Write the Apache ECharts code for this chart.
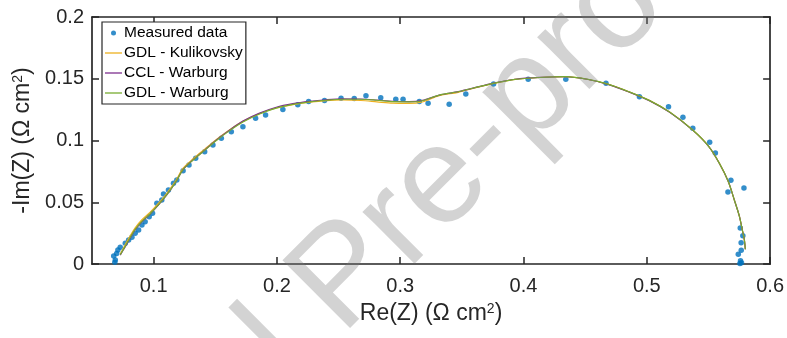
<!DOCTYPE html>
<html>
<head>
<meta charset="utf-8">
<script src="https://cdn.jsdelivr.net/npm/echarts@6/dist/echarts.min.js"></script>
<style>
  html, body { margin: 0; padding: 0; background: #fff; }
  #chart { width: 787px; height: 338px; }
</style>
</head>
<body>
<div id="chart"></div>
<script>
// Nyquist plot: measured impedance vs three model fits
const measuredRe = [
  0.0676, 0.0689, 0.0685, 0.0700, 0.0710, 0.0729, 0.0770, 0.0797, 0.0824, 0.0850,
  0.0878, 0.0905, 0.0931, 0.0964, 0.0991, 0.1026, 0.1066, 0.1080, 0.1120, 0.1161,
  0.1188, 0.1239, 0.1287, 0.1341, 0.1414, 0.1481, 0.1549, 0.1630, 0.1724, 0.1827,
  0.1908, 0.2048, 0.2169, 0.2257, 0.2386, 0.2520, 0.2627, 0.2722, 0.2842, 0.2964,
  0.3023, 0.3155, 0.3226, 0.3397, 0.3532, 0.3757, 0.4038, 0.4343, 0.4669, 0.4940,
  0.5176, 0.5293, 0.5373, 0.5510, 0.5556, 0.5682, 0.5658, 0.5788, 0.5758, 0.5779,
  0.5765, 0.5766, 0.5742, 0.5760, 0.5768, 0.5755
];
const measuredIm = [
  0.0065, 0.0032, 0.0015, 0.0085, 0.0113, 0.0135, 0.0168, 0.0194, 0.0216, 0.0248,
  0.0275, 0.0316, 0.0343, 0.0383, 0.0410, 0.0491, 0.0518, 0.0567, 0.0599, 0.0653,
  0.0680, 0.0756, 0.0802, 0.0856, 0.0909, 0.0964, 0.1018, 0.1071, 0.1112, 0.1180,
  0.1206, 0.1252, 0.1290, 0.1315, 0.1324, 0.1342, 0.1340, 0.1363, 0.1346, 0.1335,
  0.1335, 0.1316, 0.1301, 0.1293, 0.1377, 0.1457, 0.1495, 0.1495, 0.1463, 0.1355,
  0.1274, 0.1188, 0.1100, 0.0985, 0.0899, 0.0678, 0.0583, 0.0615, 0.0291, 0.0229,
  0.0172, 0.0111, 0.0078, 0.0027, 0.0010, 0.0005
];

// fitted curves share the same Re(Z) samples
const fitRe = [
  0.0729, 0.0770, 0.0810, 0.0850, 0.0905, 0.0970, 0.1040, 0.1110, 0.1180, 0.1239,
  0.1320, 0.1414, 0.1509, 0.1617, 0.1724, 0.1859, 0.1994, 0.2129, 0.2264, 0.2400,
  0.2530, 0.2680, 0.2810, 0.2940, 0.3070, 0.3180, 0.3316, 0.3470, 0.3640, 0.3766,
  0.3931, 0.4129, 0.4340, 0.4525, 0.4690, 0.4855, 0.5020, 0.5185, 0.5372, 0.5500,
  0.5589, 0.5660, 0.5710, 0.5750, 0.5775, 0.5792, 0.5799
];
const gdlKulikovskyIm = [
  0.0080, 0.0158, 0.0228, 0.0293, 0.0358, 0.0418, 0.0492, 0.0577, 0.0676, 0.0776,
  0.0852, 0.0930, 0.1008, 0.1087, 0.1155, 0.1218, 0.1263, 0.1291, 0.1310, 0.1323,
  0.1328, 0.1324, 0.1313, 0.1302, 0.1300, 0.1312, 0.1362, 0.1390, 0.1434, 0.1464,
  0.1495, 0.1510, 0.1517, 0.1494, 0.1454, 0.1394, 0.1325, 0.1230, 0.1085, 0.0955,
  0.0815, 0.0670, 0.0518, 0.0390, 0.0275, 0.0190, 0.0119
];
const cclWarburgIm = [
  0.0072, 0.0140, 0.0210, 0.0276, 0.0342, 0.0402, 0.0478, 0.0563, 0.0664, 0.0764,
  0.0843, 0.0922, 0.1004, 0.1086, 0.1157, 0.1222, 0.1269, 0.1298, 0.1317, 0.1330,
  0.1337, 0.1336, 0.1328, 0.1318, 0.1315, 0.1325, 0.1368, 0.1396, 0.1436, 0.1466,
  0.1496, 0.1511, 0.1516, 0.1494, 0.1453, 0.1393, 0.1323, 0.1228, 0.1084, 0.0954,
  0.0814, 0.0670, 0.0518, 0.0390, 0.0275, 0.0190, 0.0119
];
const gdlWarburgIm = [
  0.0075, 0.0145, 0.0215, 0.0280, 0.0345, 0.0405, 0.0480, 0.0565, 0.0665, 0.0765,
  0.0842, 0.0920, 0.1000, 0.1080, 0.1150, 0.1215, 0.1262, 0.1292, 0.1312, 0.1326,
  0.1334, 0.1334, 0.1326, 0.1315, 0.1312, 0.1322, 0.1368, 0.1395, 0.1436, 0.1465,
  0.1495, 0.1510, 0.1517, 0.1495, 0.1455, 0.1395, 0.1325, 0.1230, 0.1085, 0.0955,
  0.0815, 0.0670, 0.0518, 0.0390, 0.0275, 0.0190, 0.0119
];

const xTicks = [0.1, 0.2, 0.3, 0.4, 0.5, 0.6];
const seriesNames = ['Measured data', 'GDL - Kulikovsky', 'CCL - Warburg', 'GDL - Warburg'];

const FONT = '"Liberation Sans", Arial, Helvetica, sans-serif';
const AXIS_COLOR = '#262626';
// thin horizontal bar used as the legend line icon (keeps its aspect)
const LINE_ICON = 'path://M0,0L17,0L17,1.3L0,1.3Z';

const pairs = (xs, ys) => xs.map((x, i) => [x, ys[i]]);

const chart = echarts.init(document.getElementById('chart'), null, { renderer: 'canvas' });

const baseAxisLine = { show: true, onZero: false, lineStyle: { color: AXIS_COLOR, width: 1.7 } };
const baseTick = { show: true, inside: true, length: 7, lineStyle: { color: AXIS_COLOR, width: 1.5 } };

const option = {
  animation: false,
  backgroundColor: '#fff',
  grid: { left: 92, right: 15, top: 17, bottom: 74 },
  legend: {
    orient: 'vertical',
    left: 102,
    top: 22,
    padding: [3, 3, 3, 3],
    itemGap: 4,
    itemWidth: 17,
    itemHeight: 5,
    symbolKeepAspect: true,
    backgroundColor: '#fff',
    borderColor: AXIS_COLOR,
    borderWidth: 1.2,
    borderRadius: 0,
    textStyle: { fontFamily: FONT, fontSize: 15.5, color: '#000', padding: [0, 0, 0, -3] },
    data: [
      { name: seriesNames[0], icon: 'circle' },
      { name: seriesNames[1], icon: LINE_ICON },
      { name: seriesNames[2], icon: LINE_ICON },
      { name: seriesNames[3], icon: LINE_ICON }
    ]
  },
  xAxis: [
    {
      type: 'value',
      min: 0.05,
      max: 0.6,
      name: 'Re(Z) (\u03A9 cm{sup|2})',
      nameLocation: 'middle',
      nameGap: 38,
      nameTextStyle: {
        fontFamily: FONT, fontSize: 23, color: AXIS_COLOR,
        rich: { sup: { fontFamily: FONT, fontSize: 14, color: AXIS_COLOR, padding: [0, 0, 10, 0] } }
      },
      axisLine: baseAxisLine,
      axisTick: Object.assign({}, baseTick, { customValues: xTicks }),
      axisLabel: {
        customValues: xTicks,
        margin: 12,
        fontFamily: FONT, fontSize: 20, color: AXIS_COLOR,
        formatter: v => String(Math.round(v * 10) / 10)
      },
      splitLine: { show: false }
    },
    {
      type: 'value',
      position: 'top',
      min: 0.05,
      max: 0.6,
      axisLine: baseAxisLine,
      axisTick: Object.assign({}, baseTick, { customValues: xTicks }),
      axisLabel: { show: false },
      splitLine: { show: false }
    }
  ],
  yAxis: [
    {
      type: 'value',
      min: 0,
      max: 0.2,
      interval: 0.05,
      name: '-Im(Z) (\u03A9 cm{sup|2})',
      nameLocation: 'middle',
      nameRotate: 90,
      nameGap: 54,
      nameTextStyle: {
        fontFamily: FONT, fontSize: 23, color: AXIS_COLOR,
        rich: { sup: { fontFamily: FONT, fontSize: 14, color: AXIS_COLOR, padding: [0, 0, 10, 0] } }
      },
      axisLine: baseAxisLine,
      axisTick: baseTick,
      axisLabel: {
        margin: 8,
        fontFamily: FONT, fontSize: 20, color: AXIS_COLOR,
        formatter: v => String(Math.round(v * 100) / 100)
      },
      splitLine: { show: false }
    },
    {
      type: 'value',
      position: 'right',
      min: 0,
      max: 0.2,
      interval: 0.05,
      axisLine: baseAxisLine,
      axisTick: baseTick,
      axisLabel: { show: false },
      splitLine: { show: false }
    }
  ],
  series: [
    {
      name: seriesNames[0],
      type: 'scatter',
      data: pairs(measuredRe, measuredIm),
      symbol: 'circle',
      symbolSize: 5.5,
      itemStyle: { color: '#0072BD' },
      z: 2
    },
    {
      name: seriesNames[1],
      type: 'line',
      data: pairs(fitRe, gdlKulikovskyIm),
      showSymbol: false,
      symbol: 'none',
      smooth: 0.3,
      lineStyle: { color: '#EDB120', width: 1.2 },
      itemStyle: { color: '#EDB120' },
      z: 3
    },
    {
      name: seriesNames[2],
      type: 'line',
      data: pairs(fitRe, cclWarburgIm),
      showSymbol: false,
      symbol: 'none',
      smooth: 0.3,
      lineStyle: { color: '#7E2F8E', width: 1.2 },
      itemStyle: { color: '#7E2F8E' },
      z: 4
    },
    {
      name: seriesNames[3],
      type: 'line',
      data: pairs(fitRe, gdlWarburgIm),
      showSymbol: false,
      symbol: 'none',
      smooth: 0.3,
      lineStyle: { color: '#77AC30', width: 1.2 },
      itemStyle: { color: '#77AC30' },
      z: 5
    }
  ],
  graphic: [
    {
      type: 'text',
      x: 345,
      y: 279,
      rotation: 45 * Math.PI / 180,
      silent: true,
      z: 100,
      style: {
        text: 'Journal Pre-proof',
        fontFamily: FONT,
        fontSize: 139,
        fill: 'rgba(120,120,120,0.33)',
        align: 'center',
        verticalAlign: 'middle'
      }
    }
  ]
};

chart.setOption(option);
</script>
</body>
</html>
